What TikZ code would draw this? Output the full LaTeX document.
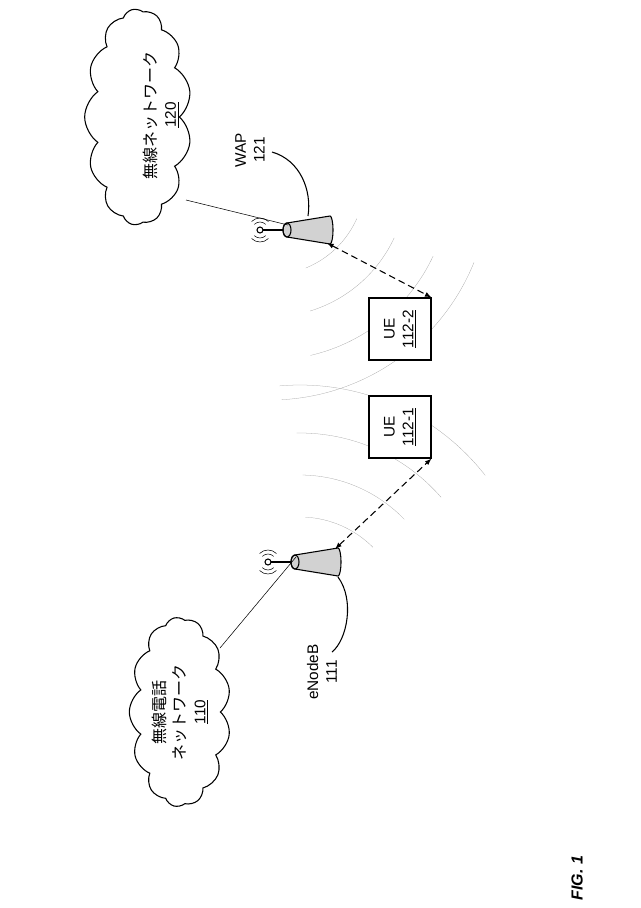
\documentclass[tikz,border=0pt]{standalone}
\usepackage{fontspec}
\setmainfont{Liberation Sans}
\newfontfamily\jp{Noto Sans CJK JP}
\usetikzlibrary{shapes.symbols,arrows.meta}
\begin{document}
\begin{tikzpicture}[x=0.75pt,y=-0.75pt,
  lbl/.style={rotate=90,font=\jp\fontsize{12}{15}\selectfont,align=center,inner sep=0},
  lat/.style={rotate=90,font=\fontsize{11.5}{14}\selectfont,align=center,inner sep=0},
  cl/.style={cloud,cloud puffs=13,cloud puff arc=110,draw,thick,aspect=2},
  wave/.style={gray!70,very thin},
  link/.style={thick,dash pattern=on 5pt off 3pt,{Latex[length=5pt]}-{Latex[length=5pt]}},
  box/.style={draw,thick,minimum width=46.5pt,minimum height=46.5pt}]
\useasboundingbox (0,0) rectangle (640,908);
% waves
\draw[wave] (270,180) ++(68:95) arc (68:24:95);
\draw[wave] (270,180) ++(73:137) arc (73:25:137);
\draw[wave] (270,180) ++(77:180) arc (77:25:180);
\draw[wave] (270,180) ++(87:220) arc (87:22:220);
\draw[wave] (300,620) ++(-87:103) arc (-87:-45:103);
\draw[wave] (300,620) ++(-89:145) arc (-89:-44:145);
\draw[wave] (300,620) ++(-91:187) arc (-91:-41:187);
\draw[wave] (300,620) ++(-95:235) arc (-95:-38:235);
% clouds
\node[cl,minimum width=162pt,minimum height=80pt,rotate=90,fill=white] (c120) at (138,117) {};
\node[cl,minimum width=142pt,minimum height=76pt,rotate=90,fill=white] (c110) at (180,712) {};
\coordinate (c120e) at (186,200);
\coordinate (c110e) at (220,648);
\node[lbl] at (150,115) {無線ネットワーク};
\node[lbl] at (172,115) {\underline{\fontsize{11.5}{14}\selectfont\rmfamily 120}};
\node[lbl] at (180,712) {無線電話\\ネットワーク\\\underline{\fontsize{11.5}{14}\selectfont\rmfamily 110}};
% towers
\foreach \n/\x/\y in {wap/287/230,enb/295/562}{
  \coordinate (\n) at (\x,\y);
  \draw[thick,fill=gray!35] (\x,\y-7) -- (\x+43,\y-14) arc (-90:90:3 and 14) -- (\x,\y+7) arc (90:270:4 and 7);
  \draw[thick] (\x,\y) ellipse (4 and 7);
  \draw[thick] (\x-4,\y) -- (\x-24,\y);
  \draw[thick] (\x-27,\y) circle (3);
  \draw (\x-27,\y) ++(45:8) arc (45:135:8);
  \draw (\x-27,\y) ++(-45:8) arc (-45:-135:8);
  \draw (\x-27,\y) ++(45:12) arc (45:135:12);
  \draw (\x-27,\y) ++(-45:12) arc (-45:-135:12);
  \coordinate (\n t) at (\x+40,\y+13);
  \coordinate (\n b) at (\x+40,\y-13);
  \coordinate (\n n) at (\x+1,\y-5);
}
% UE boxes
\node[box,fill=white] (ue2) at (400,329) {};
\node[box,fill=white] (ue1) at (400,427) {};
\node[lat] at (ue2) {UE\\\underline{112-2}};
\node[lat] at (ue1) {UE\\\underline{112-1}};
% connections
\draw (c120e) -- (wapn);
\draw (c110e) -- (enbn);
\draw[link] (wapt) -- (ue2.north east);
\draw[link] (enbb) -- (ue1.south east);
% labels
\node[lat] (wl) at (250,150) {WAP\\121};
\draw[thick] (272,152) .. controls (300,160) and (312,190) .. (308,216);
\node[lat] (el) at (322,672) {eNodeB\\111};
\draw[thick] (332,652) .. controls (347,640) and (355,600) .. (338,577);
\node[rotate=90,font=\bfseries\itshape\fontsize{12}{14}\selectfont] (fig) at (577,878) {FIG. 1};
\end{tikzpicture}
\end{document}
